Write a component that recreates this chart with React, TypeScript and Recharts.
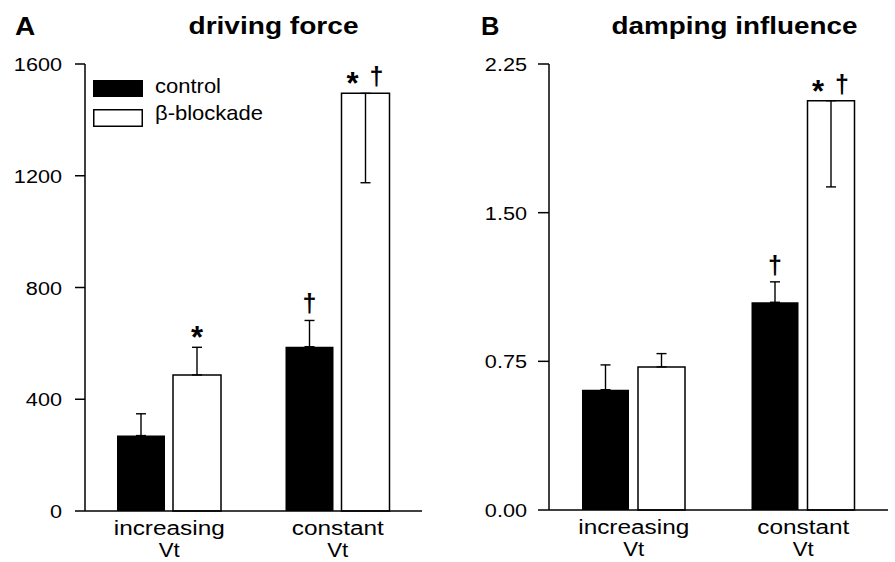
import React from 'react';
import { BarChart, Bar, XAxis, YAxis, ErrorBar, LabelList, Legend } from 'recharts';

// ---- data ----
const categoryLine1 = ['increasing', 'constant'];
const categoryLine2 = ['Vt', 'Vt'];
const seriesNames = ['control', 'β-blockade'];

const drivingControl = [270, 588];
const drivingControlErr = [[0, 78], [0, 94]];
const drivingBeta = [487, 1495];
const drivingBetaErr = [[0, 99], [320, 0]];
const drivingControlMarks = ['', '†'];
const drivingBetaMarks = ['*', '*†'];
const drivingTicks = [0, 400, 800, 1200, 1600];

const dampingControl = [0.607, 1.048];
const dampingControlErr = [[0, 0.125], [0, 0.103]];
const dampingBeta = [0.722, 2.065];
const dampingBetaErr = [[0, 0.067], [0.435, 0]];
const dampingControlMarks = ['', '†'];
const dampingBetaMarks = ['', '*†'];
const dampingTicks = [0, 0.75, 1.5, 2.25];

const FONT = "'Liberation Sans', Arial, Helvetica, sans-serif";

const buildData = (c: number[], ce: number[][], b: number[], be: number[][], cm: string[], bm: string[]) =>
  categoryLine1.map((l1, i) => ({
    cat: l1,
    control: c[i],
    controlErr: ce[i],
    beta: b[i],
    betaErr: be[i],
    controlMark: cm[i],
    betaMark: bm[i],
  }));

const dataA = buildData(drivingControl, drivingControlErr, drivingBeta, drivingBetaErr, drivingControlMarks, drivingBetaMarks);
const dataB = buildData(dampingControl, dampingControlErr, dampingBeta, dampingBetaErr, dampingControlMarks, dampingBetaMarks);

const SText = ({ x, y, children, size, weight = 'normal', sx = 1.2, anchor = 'middle' }: any) => (
  <text
    transform={`translate(${x},${y}) scale(${sx},1)`}
    textAnchor={anchor}
    fontSize={size}
    fontWeight={weight}
    fontFamily={FONT}
    fill="#000"
  >
    {children}
  </text>
);

const makeYTick = (fmt: (v: number) => string) => (props: any) => {
  const { x, y, payload } = props;
  return (
    <SText x={x} y={y + 7} size={19} sx={1.14} anchor="end">
      {fmt(payload.value)}
    </SText>
  );
};

const XTick = (props: any) => {
  const { x, y, payload, index } = props;
  return (
    <g>
      <SText x={x} y={y + 24} size={19.5} sx={1.25}>{payload.value}</SText>
      <SText x={x} y={y + 46} size={19.5} sx={1.14}>{categoryLine2[index]}</SText>
    </g>
  );
};

const makeMark = (data: any[], valueKey: string, errKey: string, markKey: string) => (props: any) => {
  const vb = props.viewBox || {};
  const x = vb.x ?? props.x;
  const y = vb.y ?? props.y;
  const width = vb.width ?? props.width;
  const height = vb.height ?? props.height;
  const index = props.index;
  const d = data[index];
  if (!d) return null;
  const mark: string = d[markKey];
  if (!mark) return null;
  const h = Math.abs(height);
  const barTop = Math.min(y, y + height);
  const pxPerUnit = h / d[valueKey];
  const top = barTop - d[errKey][1] * pxPerUnit;
  const cx = x + width / 2;
  const glyph = (ch: string, gx: number, key: string) =>
    ch === '*' ? (
      <text key={key} x={gx} y={top + 1} textAnchor="middle" fontSize={31} fontWeight="bold" fontFamily={FONT} fill="#000">*</text>
    ) : (
      <text key={key} x={gx} y={top - 8} textAnchor="middle" fontSize={25} fontWeight="bold" fontFamily={FONT} fill="#000">{ch}</text>
    );
  if (mark.length === 1) return glyph(mark, cx, 'a');
  return <g>{[glyph(mark[0], cx - 13, 'a'), glyph(mark[1], cx + 11, 'b')]}</g>;
};

const LegendContent = (props: any) => {
  const items = props.payload && props.payload.length ? props.payload.map((p: any) => p.value) : seriesNames;
  return (
    <svg width={260} height={60} style={{ overflow: 'visible' }}>
      {items.map((name: string, i: number) => (
        <g key={name}>
          {i === 0 ? (
            <rect x={0} y={2} width={50} height={17} fill="#000" />
          ) : (
            <rect x={0.75} y={31.75} width={48.5} height={16.5} fill="#fff" stroke="#000" strokeWidth={1.5} />
          )}
          <SText x={62} y={i === 0 ? 15 : 42} size={20} sx={1.1} anchor="start">{name}</SText>
        </g>
      ))}
    </svg>
  );
};

const axisStyle = { stroke: '#000', strokeWidth: 1.5 };

export default function App() {
  return (
    <div style={{ position: 'absolute', left: 0, top: 0, width: 895, height: 562, background: '#fff', overflow: 'hidden' }}>
      <svg style={{ position: 'absolute', left: 0, top: 0 }} width={895} height={50}>
        <SText x={15} y={35} size={26} weight="bold" sx={1.08} anchor="start">A</SText>
        <SText x={273.5} y={34} size={24} weight="bold" sx={1.17}>driving force</SText>
        <SText x={481} y={35} size={26} weight="bold" sx={0.98} anchor="start">B</SText>
        <SText x={734.5} y={34} size={24} weight="bold" sx={1.16}>damping influence</SText>
      </svg>

      <div style={{ position: 'absolute', left: 0, top: 0 }}>
        <BarChart
          width={445}
          height={562}
          data={dataA}
          margin={{ top: 64, right: 23, bottom: 0, left: 0 }}
          barSize={48}
          barGap={8}
        >
          <XAxis
            dataKey="cat"
            height={51}
            tickLine={false}
            tickSize={0}
            tickMargin={0}
            axisLine={axisStyle}
            tick={<XTick />}
            interval={0}
          />
          <YAxis
            width={85}
            domain={[0, 1600]}
            ticks={drivingTicks}
            interval={0}
            tickSize={10}
            tickMargin={13}
            axisLine={axisStyle}
            tickLine={axisStyle}
            tick={makeYTick((v) => String(v))}
          />
          <Legend
            layout="vertical"
            align="center"
            verticalAlign="middle"
            content={<LegendContent />}
            wrapperStyle={{ position: 'absolute', left: 93, top: 78, width: 260, height: 60 }}
          />
          <Bar dataKey="control" name={seriesNames[0]} fill="#000" isAnimationActive={false}>
            <ErrorBar dataKey="controlErr" width={5} stroke="#000" strokeWidth={1.4} direction="y" isAnimationActive={false} />
            <LabelList dataKey="controlMark" content={makeMark(dataA, 'control', 'controlErr', 'controlMark')} />
          </Bar>
          <Bar dataKey="beta" name={seriesNames[1]} fill="#fff" stroke="#000" strokeWidth={1.5} isAnimationActive={false}>
            <ErrorBar dataKey="betaErr" width={5} stroke="#000" strokeWidth={1.4} direction="y" isAnimationActive={false} />
            <LabelList dataKey="betaMark" content={makeMark(dataA, 'beta', 'betaErr', 'betaMark')} />
          </Bar>
        </BarChart>
      </div>

      <div style={{ position: 'absolute', left: 445, top: 0 }}>
        <BarChart
          width={450}
          height={562}
          data={dataB}
          margin={{ top: 64, right: 7, bottom: 0, left: 0 }}
          barSize={47}
          barGap={9}
        >
          <XAxis
            dataKey="cat"
            height={52}
            tickLine={false}
            tickSize={0}
            tickMargin={0}
            axisLine={axisStyle}
            tick={<XTick />}
            interval={0}
          />
          <YAxis
            width={104}
            domain={[0, 2.25]}
            ticks={dampingTicks}
            interval={0}
            tickSize={11}
            tickMargin={11}
            axisLine={axisStyle}
            tickLine={axisStyle}
            tick={makeYTick((v) => v.toFixed(2))}
          />
          <Bar dataKey="control" name={seriesNames[0]} fill="#000" isAnimationActive={false}>
            <ErrorBar dataKey="controlErr" width={5} stroke="#000" strokeWidth={1.4} direction="y" isAnimationActive={false} />
            <LabelList dataKey="controlMark" content={makeMark(dataB, 'control', 'controlErr', 'controlMark')} />
          </Bar>
          <Bar dataKey="beta" name={seriesNames[1]} fill="#fff" stroke="#000" strokeWidth={1.5} isAnimationActive={false}>
            <ErrorBar dataKey="betaErr" width={5} stroke="#000" strokeWidth={1.4} direction="y" isAnimationActive={false} />
            <LabelList dataKey="betaMark" content={makeMark(dataB, 'beta', 'betaErr', 'betaMark')} />
          </Bar>
        </BarChart>
      </div>
    </div>
  );
}
